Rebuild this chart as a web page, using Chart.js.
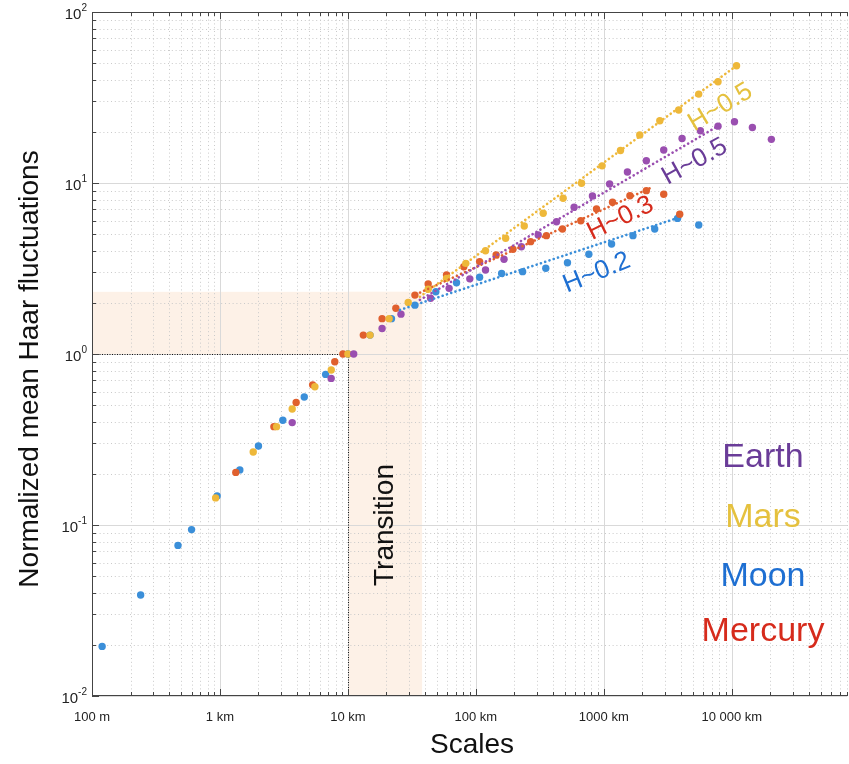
<!DOCTYPE html>
<html lang="en">
<head>
<meta charset="UTF-8">
<title>Haar fluctuations</title>
<script src="https://cdn.jsdelivr.net/npm/chart.js@4"></script>
<style>
  html, body { margin: 0; padding: 0; background: #fff; overflow: hidden; }
  #wrap { width: 851px; height: 764px; }
</style>
</head>
<body>
<div id="wrap"><canvas id="grafico"></canvas></div>

<script>
// scale (km) and normalized mean Haar fluctuation, one pair of arrays per body
const moonScale = [0.12, 0.24, 0.47, 0.60, 0.95, 1.43, 2.0, 3.1, 4.56, 6.7, 10, 14.9, 21.9, 33.4, 48.7, 70.6, 107, 159, 232, 352, 520, 764, 1150, 1690, 2500, 3770, 5520];
const moonFluct = [0.0195, 0.039, 0.076, 0.094, 0.148, 0.21, 0.29, 0.41, 0.56, 0.76, 1.0, 1.29, 1.61, 1.93, 2.31, 2.61, 2.81, 2.96, 3.03, 3.17, 3.42, 3.83, 4.4, 4.92, 5.38, 6.21, 5.68];

const mercuryScale = [1.33, 2.64, 3.94, 5.3, 7.9, 9.15, 13.2, 18.5, 23.7, 33.4, 42.4, 59, 80.5, 107, 144, 195, 268, 356, 475, 661, 877, 1170, 1600, 2150, 2940, 3920];
const mercuryFluct = [0.203, 0.376, 0.52, 0.66, 0.90, 1.0, 1.29, 1.61, 1.85, 2.21, 2.57, 2.9, 3.24, 3.47, 3.79, 4.1, 4.54, 4.92, 5.38, 6.02, 7.05, 7.71, 8.43, 9.02, 8.59, 6.56];

const marsScale = [0.925, 1.82, 2.77, 3.67, 5.52, 7.41, 10.0, 14.9, 21, 29.6, 42.4, 59, 83.5, 119, 171, 239, 336, 481, 670, 970, 1350, 1910, 2740, 3850, 5520, 7810, 10900];
const marsFluct = [0.144, 0.267, 0.376, 0.477, 0.644, 0.806, 1.0, 1.29, 1.61, 2.0, 2.39, 2.77, 3.39, 4.02, 4.75, 5.6, 6.65, 8.14, 9.96, 12.6, 15.5, 19.1, 23.1, 26.7, 33.1, 39.1, 48.5];

const earthScale = [3.67, 7.4, 11.1, 18.5, 26, 44.3, 61.8, 89.7, 119, 166, 227, 307, 427, 586, 815, 1110, 1530, 2150, 2940, 4090, 5690, 7810, 10500, 14500, 20400];
const earthFluct = [0.397, 0.72, 1.0, 1.41, 1.71, 2.12, 2.42, 2.75, 3.1, 3.58, 4.24, 4.97, 5.94, 7.21, 8.39, 9.87, 11.6, 13.5, 15.6, 18.2, 20.2, 21.5, 22.8, 21.1, 18.0];

// power-law fits (start, end)
const fitMarsX = [36.5, 10900], fitMarsY = [2.16, 48.5];
const fitEarthX = [36.5, 8060], fitEarthY = [2.07, 21.8];
const fitMercuryX = [34, 2430], fitMercuryY = [2.23, 9.5];
const fitMoonX = [25.5, 3690], fitMoonY = [1.81, 6.21];

const fitLabels = ['H~0.5', 'H~0.5', 'H~0.3', 'H~0.2'];

// axis ticks
const xTickValues = [0.1, 1, 10, 100, 1000, 10000];
const xTickLabels = ['100 m', '1 km', '10 km', '100 km', '1000 km', '10 000 km'];
const yTickValues = [0.01, 0.1, 1, 10, 100];
const yTickExps = ['-2', '-1', '0', '1', '2'];

const legendNames = ['Earth', 'Mars', 'Moon', 'Mercury'];

const cores = {
    moon: '#3b8fd9', mercury: '#e0602e', mars: '#eeb83a', earth: '#9a4fb0',
    moonTxt: '#1e6fd2', mercuryTxt: '#d62b1c', marsTxt: '#e5c13e', earthTxt: '#6a3c98'
};

const FONTE = '"Helvetica Neue", Helvetica, Arial, "Liberation Sans", sans-serif';

const pares = (xs, ys) => xs.map((x, i) => ({ x: x, y: ys[i] }));

function pontos(label, xs, ys, cor, ordem) {
    return {
        label: label, data: pares(xs, ys), order: ordem,
        pointRadius: 3.7, pointHoverRadius: 3.7, pointBorderWidth: 0,
        pointBackgroundColor: cor, showLine: false
    };
}

function ajuste(xs, ys, cor) {
    return {
        data: pares(xs, ys), order: 0, showLine: true, pointRadius: 0,
        borderColor: cor, borderWidth: 2.6, borderDash: [0.1, 4.4], borderCapStyle: 'round'
    };
}

function valoresLog(min, max) {
    const out = [];
    for (let e = Math.floor(Math.log10(min)); e <= Math.ceil(Math.log10(max)); e++) {
        for (let m = 1; m < 10; m++) {
            const v = m * Math.pow(10, e);
            if (v >= min * 0.999 && v <= max * 1.001) out.push({ v: v, major: m === 1 });
        }
    }
    return out;
}

const fundo = {
    id: 'fundo',
    beforeDraw(chart) {
        const ctx = chart.ctx;
        ctx.save();
        ctx.fillStyle = '#fff';
        ctx.fillRect(0, 0, chart.width, chart.height);
        ctx.restore();
    },
    beforeDatasetsDraw(chart) {
        const { ctx, chartArea: a, scales: { x, y } } = chart;
        ctx.save();

        // transition zone
        ctx.fillStyle = '#fdf1e7';
        const xr = x.getPixelForValue(38), yt = y.getPixelForValue(2.31);
        ctx.fillRect(a.left, yt, xr - a.left, y.getPixelForValue(1) - yt);
        ctx.fillRect(x.getPixelForValue(10), yt, xr - x.getPixelForValue(10), a.bottom - yt);

        const gx = valoresLog(x.min, x.max), gy = valoresLog(y.min, y.max);

        // minor grid, dotted
        ctx.lineWidth = 1;
        ctx.strokeStyle = '#cacaca';
        ctx.setLineDash([1, 2.8]);
        ctx.beginPath();
        gx.filter(g => !g.major).forEach(g => {
            const p = Math.round(x.getPixelForValue(g.v)) + 0.5;
            ctx.moveTo(p, a.top); ctx.lineTo(p, a.bottom);
        });
        gy.filter(g => !g.major).forEach(g => {
            const p = Math.round(y.getPixelForValue(g.v)) + 0.5;
            ctx.moveTo(a.left, p); ctx.lineTo(a.right, p);
        });
        ctx.stroke();

        // major grid
        ctx.setLineDash([]);
        ctx.strokeStyle = '#d9d9d9';
        ctx.beginPath();
        gx.filter(g => g.major).forEach(g => {
            const p = Math.round(x.getPixelForValue(g.v)) + 0.5;
            ctx.moveTo(p, a.top); ctx.lineTo(p, a.bottom);
        });
        gy.filter(g => g.major).forEach(g => {
            const p = Math.round(y.getPixelForValue(g.v)) + 0.5;
            ctx.moveTo(a.left, p); ctx.lineTo(a.right, p);
        });
        ctx.stroke();

        // normalisation guides at 10 km
        ctx.strokeStyle = '#111';
        ctx.setLineDash([1, 1.5]);
        ctx.beginPath();
        const p10 = Math.round(x.getPixelForValue(10)) + 0.5, p1 = Math.round(y.getPixelForValue(1)) + 0.5;
        ctx.moveTo(a.left, p1); ctx.lineTo(p10, p1);
        ctx.moveTo(p10, p1); ctx.lineTo(p10, a.bottom);
        ctx.stroke();

        // transition text
        ctx.setLineDash([]);
        ctx.translate(x.getPixelForValue(19.5), y.getPixelForValue(0.1));
        ctx.rotate(-Math.PI / 2);
        ctx.fillStyle = '#111';
        ctx.font = '300 28px ' + FONTE;
        ctx.textAlign = 'center';
        ctx.textBaseline = 'middle';
        ctx.fillText('Transition', 0, 0);
        ctx.restore();
    },
    afterDraw(chart) {
        const { ctx, chartArea: a, scales: { x, y } } = chart;
        ctx.save();

        // box and inward ticks
        ctx.strokeStyle = '#444';
        ctx.lineWidth = 1;
        ctx.beginPath();
        ctx.moveTo(a.left + 0.5, a.top + 0.5); ctx.lineTo(a.right, a.top + 0.5);
        ctx.moveTo(a.left + 0.5, a.top); ctx.lineTo(a.left + 0.5, a.bottom);
        ctx.moveTo(a.left, a.bottom - 0.5); ctx.lineTo(a.right, a.bottom - 0.5);
        valoresLog(x.min, x.max).forEach(g => {
            const p = Math.round(x.getPixelForValue(g.v)) + 0.5, t = g.major ? 7 : 4;
            ctx.moveTo(p, a.bottom); ctx.lineTo(p, a.bottom - t);
            ctx.moveTo(p, a.top); ctx.lineTo(p, a.top + t);
        });
        valoresLog(y.min, y.max).forEach(g => {
            const p = Math.round(y.getPixelForValue(g.v)) + 0.5, t = g.major ? 7 : 4;
            ctx.moveTo(a.left, p); ctx.lineTo(a.left + t, p);
        });
        ctx.stroke();

        // y tick labels 10^n
        ctx.fillStyle = '#222';
        yTickValues.forEach((v, i) => {
            const py = y.getPixelForValue(v);
            ctx.font = '10px ' + FONTE;
            const w = ctx.measureText(yTickExps[i]).width;
            ctx.textAlign = 'left';
            ctx.textBaseline = 'alphabetic';
            ctx.fillText(yTickExps[i], 87 - w, py - 1);
            ctx.font = '15px ' + FONTE;
            ctx.textAlign = 'right';
            ctx.textBaseline = 'middle';
            ctx.fillText('10', 87 - w, py + 3);
        });

        // fit labels along the lines
        const rotulos = [
            [8170, 27.7, -31, cores.marsTxt],
            [5140, 13.3, -29, cores.earthTxt],
            [1350, 6.2, -26, cores.mercuryTxt],
            [881, 2.98, -22, cores.moonTxt]
        ];
        ctx.font = '300 26px ' + FONTE;
        ctx.textAlign = 'center';
        ctx.textBaseline = 'middle';
        rotulos.forEach((r, i) => {
            ctx.save();
            ctx.translate(x.getPixelForValue(r[0]), y.getPixelForValue(r[1]));
            ctx.rotate(r[2] * Math.PI / 180);
            ctx.fillStyle = r[3];
            ctx.fillText(fitLabels[i], 0, 0);
            ctx.restore();
        });

        // body names
        const corNome = [cores.earthTxt, cores.marsTxt, cores.moonTxt, cores.mercuryTxt];
        const yNome = [458, 518, 577, 632];
        ctx.font = '300 34px ' + FONTE;
        legendNames.forEach((n, i) => {
            ctx.fillStyle = corNome[i];
            ctx.fillText(n, 763, yNome[i]);
        });

        // axis titles
        ctx.fillStyle = '#111';
        ctx.font = '300 28px ' + FONTE;
        ctx.fillText('Scales', 472, 745);
        ctx.translate(30, 369);
        ctx.rotate(-Math.PI / 2);
        ctx.fillText('Normalized mean Haar fluctuations', 0, 0);
        ctx.restore();
    }
};

new Chart(document.getElementById('grafico'), {
    type: 'scatter',
    data: {
        datasets: [
            ajuste(fitMarsX, fitMarsY, cores.mars),
            ajuste(fitEarthX, fitEarthY, cores.earth),
            ajuste(fitMercuryX, fitMercuryY, cores.mercury),
            ajuste(fitMoonX, fitMoonY, cores.moon),
            pontos('Earth', earthScale, earthFluct, cores.earth, 1),
            pontos('Mars', marsScale, marsFluct, cores.mars, 2),
            pontos('Mercury', mercuryScale, mercuryFluct, cores.mercury, 3),
            pontos('Moon', moonScale, moonFluct, cores.moon, 4)
        ]
    },
    options: {
        responsive: true,
        maintainAspectRatio: false,
        animation: false,
        layout: { padding: { top: 12, right: 0, left: 0, bottom: 0 } },
        plugins: { legend: { display: false }, tooltip: { enabled: false } },
        scales: {
            x: {
                type: 'logarithmic', min: 0.1, max: 80000,
                grid: { display: false }, border: { display: false },
                afterBuildTicks: s => { s.ticks = xTickValues.map(v => ({ value: v })); },
                afterFit: s => { s.height = 68; },
                ticks: {
                    autoSkip: false, maxRotation: 0, padding: 6, color: '#222',
                    font: { family: FONTE, size: 13 },
                    callback: (v, i) => xTickLabels[i]
                }
            },
            y: {
                type: 'logarithmic', min: 0.01, max: 100,
                grid: { display: false }, border: { display: false },
                afterBuildTicks: s => { s.ticks = yTickValues.map(v => ({ value: v })); },
                afterFit: s => { s.width = 92; },
                ticks: { display: false }
            }
        }
    },
    plugins: [fundo]
});
</script>
</body>
</html>
